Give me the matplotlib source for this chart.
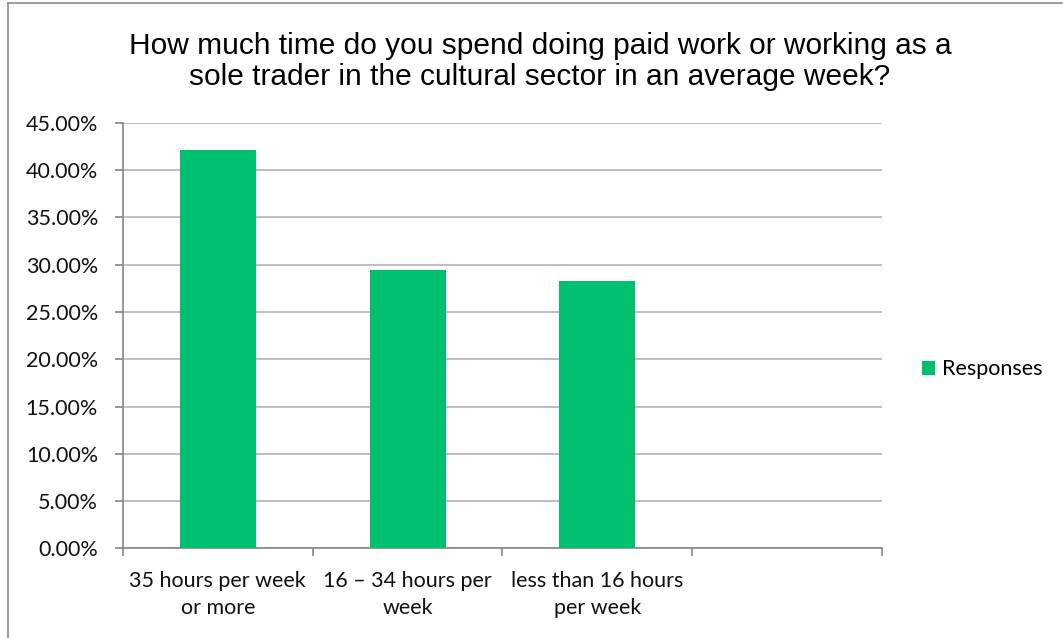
import matplotlib
matplotlib.use("Agg")
from matplotlib import pyplot as plt
from matplotlib.lines import Line2D
from matplotlib.ticker import FuncFormatter, MultipleLocator
import numpy as np

# survey answers (share of responses, in %)
categories = ["35 hours per week\nor more", "16 \u2013 34 hours per\nweek", "less than 16 hours\nper week", ""]
responses = [42.14, 29.47, 28.24, np.nan]

title = ("How much time do you spend doing paid work or working as a\n"
         "sole trader in the cultural sector in an average week?")

bar_color = "#00BF6F"
grid_color = "#B3B3B3"
axis_color = "#868686"

fig = plt.figure(figsize=(10.63, 6.38), dpi=100)
ax = fig.add_axes([0.1157, 0.1404, 0.8297 - 0.1157, 0.8077 - 0.1404])

x = np.arange(len(categories))
ax.bar(x, responses, width=0.4, color=bar_color, label="Responses", zorder=3)

ax.set_xlim(-0.5, len(categories) - 0.5)
ax.set_ylim(0, 45)
ax.yaxis.set_major_locator(MultipleLocator(5))
ax.yaxis.set_major_formatter(FuncFormatter(lambda v, p: "%.2f%%" % v))
ax.grid(axis="y", color=grid_color, linewidth=1.2, zorder=0)

# category labels centred, tick marks on the boundaries
ax.set_xticks(x)
ax.set_xticklabels(categories)
ax.set_xticks(np.arange(len(categories) + 1) - 0.5, minor=True)
ax.tick_params(axis="x", which="major", length=0, pad=16)
ax.tick_params(axis="x", which="minor", length=6, color=axis_color, width=1.2)
ax.tick_params(axis="y", length=6, color=axis_color, width=1.2, pad=12)
for lab in ax.get_xticklabels() + ax.get_yticklabels():
    lab.set_family("Lato")
    lab.set_fontsize(15.5)
    lab.set_color("#111111")
for lab in ax.get_xticklabels():
    lab.set_linespacing(1.45)

for side in ["top", "right"]:
    ax.spines[side].set_visible(False)
ax.spines["left"].set_color(axis_color)
ax.spines["bottom"].set_color(axis_color)
ax.spines["left"].set_linewidth(1.2)
ax.spines["bottom"].set_linewidth(1.2)

fig.text(0.508, 0.904, title, ha="center", va="center", family="Liberation Sans",
         fontsize=21.5, linespacing=1.15, color="#000000")

leg = fig.legend(loc="center left", bbox_to_anchor=(0.867, 0.421), frameon=False,
                 borderpad=0, borderaxespad=0,
                 handlelength=0.6, handleheight=0.6, handletextpad=0.35,
                 prop={"family": "Lato", "size": 15.5})

# chart border (left and top edges)
fig.add_artist(Line2D([0.0075, 0.0075], [0.0, 0.995], transform=fig.transFigure,
                      color="#8C8C8C", linewidth=1.2))
fig.add_artist(Line2D([0.0075, 0.999], [0.995, 0.995], transform=fig.transFigure,
                      color="#8C8C8C", linewidth=1.2))

fig.savefig("out.png", dpi=100, facecolor="white")
